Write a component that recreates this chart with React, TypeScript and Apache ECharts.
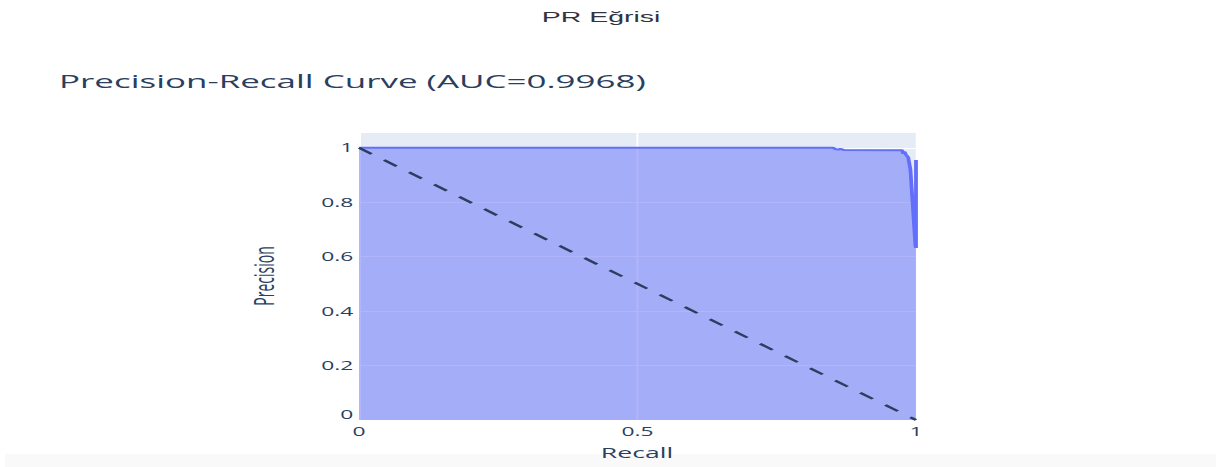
import React, { useEffect, useRef } from "react";
import * as echarts from "echarts";

// horizontal stretch of the reference picture
const S = 1.9;
const W = 1221 / S;
const H = 467;

const curveRecall = [0, 0.851, 0.856, 0.86, 0.864, 0.87, 0.975, 0.977, 0.979, 0.982, 0.986, 0.99, 0.999, 1, 1];
const curvePrecision = [1, 1, 0.995, 0.993, 0.996, 0.992, 0.991, 0.978, 0.986, 0.975, 0.965, 0.92, 0.64, 0.632, 0.955];
const baselineRecall = [0, 1];
const baselinePrecision = [1, 0];
const xTicks = [0, 0.5, 1];
const yTicks = [0, 0.2, 0.4, 0.6, 0.8, 1];

const pageTitle = "PR Eğrisi";
const chartTitle = "Precision-Recall Curve (AUC=0.9968)";
const xName = "Recall";
const yName = "Precision";

const FONT = "'Open Sans', verdana, arial, sans-serif";
const INK = "#2a3f5f";

export default function App() {
  const ref = useRef<HTMLDivElement>(null);
  useEffect(() => {
    document.body.style.margin = "0";
    if (!ref.current) return;
    const chart = echarts.init(ref.current, null, { renderer: "svg" });
    const gridLeft = 359 / S;
    const gridRight = 916 / S;
    const gridTop = 132;
    const gridBottom = 420;
    const fmt = (v: number) => String(Math.round(v * 10) / 10);
    chart.setOption({
      animation: false,
      grid: {
        left: gridLeft,
        top: gridTop,
        width: gridRight - gridLeft,
        height: gridBottom - gridTop,
        show: true,
        backgroundColor: "#E5ECF6",
        borderWidth: 0,
      },
      xAxis: {
        type: "value",
        min: 0,
        max: 1,
        interval: 0.5,
        axisLine: { show: false },
        axisTick: { show: false },
        splitLine: { show: true, lineStyle: { color: "#ffffff", width: 1 } },
        axisLabel: {
          margin: 5,
          fontFamily: FONT,
          fontSize: 12,
          color: INK,
          formatter: (v: number) => (xTicks.some((t) => Math.abs(t - v) < 1e-6) ? fmt(v) : ""),
        },
      },
      yAxis: {
        type: "value",
        min: 0,
        max: 1.058,
        interval: 0.2,
        axisLine: { show: false },
        axisTick: { show: false },
        splitLine: { show: true, lineStyle: { color: "#ffffff", width: 1 } },
        axisLabel: {
          margin: 3,
          fontFamily: FONT,
          fontSize: 12,
          color: INK,
          showMaxLabel: false,
          verticalAlignMinLabel: "bottom",
          formatter: (v: number) => (yTicks.some((t) => Math.abs(t - v) < 1e-6) ? fmt(v) : ""),
        },
      },
      graphic: [
        {
          type: "rect",
          z: -10,
          shape: { x: 5 / S, y: 454, width: (1216 - 5) / S, height: 13 },
          style: { fill: "#f9f9fa" },
          silent: true,
        },
        {
          type: "text",
          x: 601 / S,
          y: 17,
          style: {
            text: pageTitle,
            fontFamily: "'Liberation Sans', Arial, sans-serif",
            fontSize: 15,
            fill: "#31333F",
            align: "center",
            verticalAlign: "middle",
          },
        },
        {
          type: "text",
          x: 59 / S,
          y: 81,
          style: {
            text: chartTitle,
            fontFamily: FONT,
            fontSize: 18.4,
            fill: INK,
            align: "left",
            verticalAlign: "middle",
          },
        },
        {
          type: "text",
          x: 637 / S,
          y: 452,
          z: 10,
          style: {
            text: xName,
            fontFamily: FONT,
            fontSize: 14,
            fill: INK,
            align: "center",
            verticalAlign: "middle",
          },
        },
        {
          type: "text",
          x: 263 / S,
          y: 276,
          rotation: Math.PI / 2,
          style: {
            text: yName,
            fontFamily: FONT,
            fontSize: 14,
            fill: INK,
            align: "center",
            verticalAlign: "middle",
          },
        },
      ],
      series: [
        {
          type: "line",
          name: "PR",
          data: curveRecall.map((r, i) => [r, curvePrecision[i]]),
          symbol: "none",
          lineStyle: { color: "#636efa", width: 2 },
          areaStyle: { color: "rgba(99,110,250,0.5)", opacity: 1 },
          z: 2,
        },
        {
          type: "line",
          name: "baseline",
          data: baselineRecall.map((r, i) => [r, baselinePrecision[i]]),
          symbol: "none",
          lineStyle: { color: INK, width: 2, type: [9, 9] },
          z: 3,
        },
      ],
    });
    return () => chart.dispose();
  }, []);
  return (
    <div style={{ width: 1221, height: H, overflow: "hidden", position: "relative", background: "#ffffff" }}>
      <div
        ref={ref}
        style={{ width: W, height: H, transform: `scaleX(${S})`, transformOrigin: "0 0" }}
      />
    </div>
  );
}
